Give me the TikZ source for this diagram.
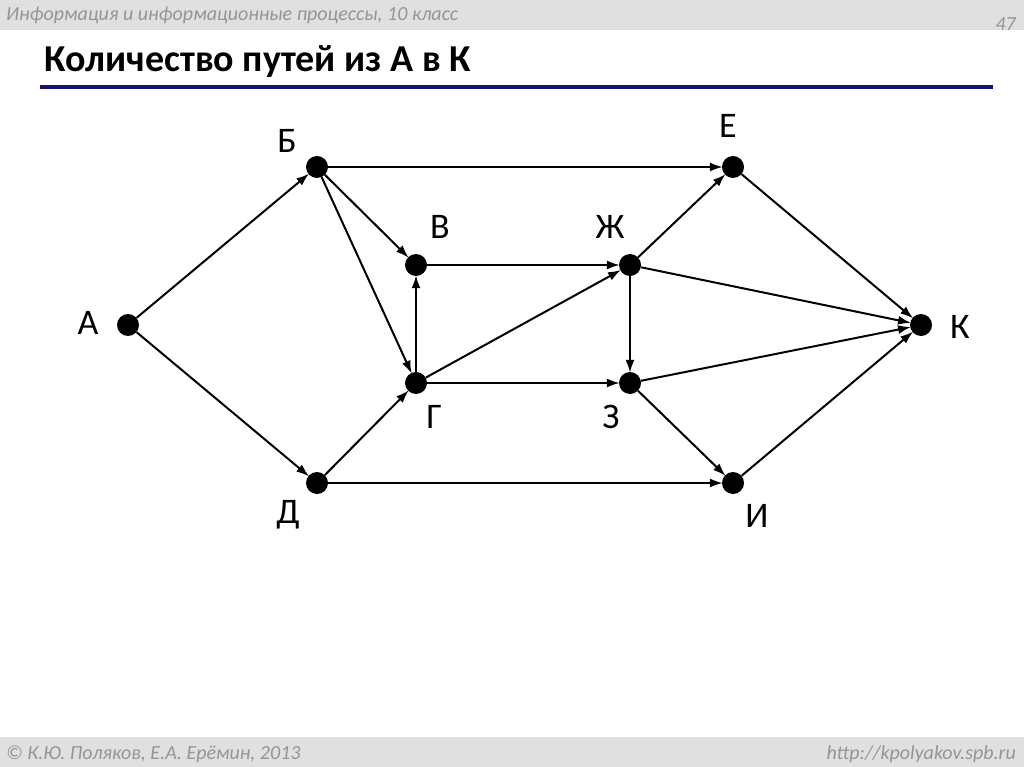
\documentclass[tikz,border=0pt]{standalone}
\usepackage{fontspec}
\setmainfont{Carlito}
\usepackage{xcolor}
\definecolor{slideGray}{HTML}{E0E0E0}
\definecolor{slideText}{HTML}{959595}
\definecolor{slideBlue}{HTML}{141470}
\usepackage{tikz}
\usetikzlibrary{arrows.meta}

\tikzset{
  vertex/.style={circle, fill=black, inner sep=0pt, minimum size=22pt},
  vname/.style={anchor=base, font=\fontsize{36}{36}\selectfont},
  edge/.style={-{Latex[length=13pt,width=9pt]}, line width=2pt, shorten >=-1pt},
  slidenote/.style={text=slideText, font=\fontsize{20}{20}\selectfont\itshape}
}

\begin{document}
\begin{tikzpicture}[x=1pt, y=-1pt]
  \useasboundingbox (0,0) rectangle (1024,767);
  % ------- slide frame: header, title, footer -------
  \fill[slideGray] (0,0) rectangle (1024,30);
  \fill[slideGray] (0,737) rectangle (1024,767);
  \node[slidenote, anchor=base west, inner sep=0pt] (head) at (6,21) {Информация и информационные процессы, 10 класс};
  \node[slidenote, anchor=base east, inner sep=0pt] (page) at (1016,31) {47};
  \node[anchor=base west, inner sep=0pt, font=\fontsize{38}{38}\selectfont\bfseries] (title) at (44,72) {Количество путей из А в К};
  \draw[slideBlue, line width=4pt] (40,87) -- (993,87);
  \node[slidenote, anchor=base west, inner sep=0pt] (copy) at (6,759) {© К.Ю. Поляков, Е.А. Ерёмин, 2013};
  \node[slidenote, anchor=base east, inner sep=0pt] (site) at (1016,759) {http://kpolyakov.spb.ru};
  % ------- graph vertices -------
  \node[vertex] (A)  at (128,325) {};
  \node[vertex] (B)  at (317,167) {};
  \node[vertex] (V)  at (416,265) {};
  \node[vertex] (G)  at (416,383) {};
  \node[vertex] (D)  at (317,483) {};
  \node[vertex] (E)  at (733,167) {};
  \node[vertex] (Zh) at (630,265) {};
  \node[vertex] (Z)  at (630,383) {};
  \node[vertex] (I)  at (733,483) {};
  \node[vertex] (K)  at (921,325) {};
  % vertex names
  \node[vname] (labA)  at (88,334)  {А};
  \node[vname] (labB)  at (287,153) {Б};
  \node[vname] (labV)  at (440,238) {В};
  \node[vname] (labG)  at (434,428) {Г};
  \node[vname] (labD)  at (288,523) {Д};
  \node[vname] (labE)  at (728,138) {Е};
  \node[vname] (labZh) at (610,238) {Ж};
  \node[vname] (labZ)  at (611,428) {З};
  \node[vname] (labI)  at (757,527) {И};
  \node[vname] (labK)  at (960,338) {К};
  % ------- arcs -------
  \draw[edge] (A) -- (B);
  \draw[edge] (A) -- (D);
  \draw[edge] (B) -- (E);
  \draw[edge] (B) -- (V);
  \draw[edge] (B) -- (G);
  \draw[edge] (D) -- (G);
  \draw[edge] (D) -- (I);
  \draw[edge] (G) -- (V);
  \draw[edge] (V) -- (Zh);
  \draw[edge] (G) -- (Zh);
  \draw[edge] (G) -- (Z);
  \draw[edge] (Zh) -- (E);
  \draw[edge] (Zh) -- (K);
  \draw[edge] (Zh) -- (Z);
  \draw[edge] (E) -- (K);
  \draw[edge] (Z) -- (K);
  \draw[edge] (Z) -- (I);
  \draw[edge] (I) -- (K);
\end{tikzpicture}
\end{document}
